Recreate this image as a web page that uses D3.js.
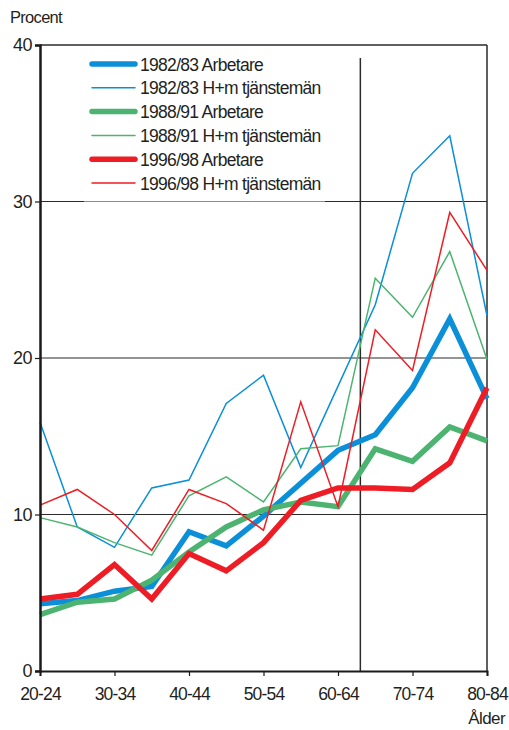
<!DOCTYPE html>
<html>
<head>
<meta charset="utf-8">
<script src="https://cdn.jsdelivr.net/npm/d3@7"></script>
<style>
  body { margin: 0; background: #fff; }
  text { font-family: "Liberation Sans", Arial, sans-serif; fill: #231f20; }
</style>
</head>
<body>
<div id="chart"></div>
<script>
// categories (age groups) and ticks
const ages = ["20-24","25-29","30-34","35-39","40-44","45-49","50-54","55-59","60-64","65-69","70-74","75-79","80-84"];
const ageLabels = ["20-24","30-34","40-44","50-54","60-64","70-74","80-84"];
const yTicks = [0, 10, 20, 30, 40];
const pensionAge = 65; // vertical marker

// series values (procent)
const arb8283 = [4.3, 4.5, 5.1, 5.4, 8.9, 8.0, 9.9, 12.0, 14.1, 15.1, 18.1, 22.5, 17.4];
const hm8283  = [15.9, 9.2, 7.9, 11.7, 12.2, 17.1, 18.9, 13.0, 18.2, 23.4, 31.8, 34.2, 22.7];
const arb8891 = [3.6, 4.4, 4.6, 5.8, 7.6, 9.2, 10.3, 10.8, 10.5, 14.2, 13.4, 15.6, 14.7];
const hm8891  = [9.8, 9.2, 8.2, 7.4, 11.2, 12.4, 10.8, 14.2, 14.4, 25.1, 22.6, 26.8, 19.9];
const arb9698 = [4.6, 4.9, 6.8, 4.6, 7.5, 6.4, 8.2, 10.9, 11.7, 11.7, 11.6, 13.3, 18.1];
const hm9698  = [10.6, 11.6, 10.0, 7.7, 11.6, 10.7, 9.0, 17.2, 10.5, 21.8, 19.2, 29.3, 25.6];

const series = [
  {name: "1982/83 Arbetare",       values: arb8283, color: "#0a8fd8", thick: true},
  {name: "1982/83 H+m tjänstemän", values: hm8283,  color: "#0a8fd8", thick: false},
  {name: "1988/91 Arbetare",       values: arb8891, color: "#4cb470", thick: true},
  {name: "1988/91 H+m tjänstemän", values: hm8891,  color: "#4cb470", thick: false},
  {name: "1996/98 Arbetare",       values: arb9698, color: "#ee1d25", thick: true},
  {name: "1996/98 H+m tjänstemän", values: hm9698,  color: "#ee1d25", thick: false}
];

// dimensions
const W = 509, H = 730;
const margin = {top: 45, right: 22, bottom: 59, left: 40};
const width = W - margin.left - margin.right;
const height = H - margin.top - margin.bottom;

const svg = d3.select("#chart").append("svg")
    .attr("width", W).attr("height", H);
const g = svg.append("g")
    .attr("transform", `translate(${margin.left},${margin.top})`);

// scales
const x = d3.scalePoint().domain(ages).range([0, width]);
const y = d3.scaleLinear().domain([0, 40]).range([height, 0]);
// age -> x, using the midpoints of the age groups
const xAge = d3.scaleLinear().domain([22, 82]).range([0, width]);

// gridlines
g.append("g").selectAll("line")
  .data(yTicks.filter(d => d > 0 && d < 40))
  .join("line")
    .attr("x1", 0).attr("x2", width)
    .attr("y1", d => y(d)).attr("y2", d => y(d))
    .attr("stroke", "#2b2b2b").attr("stroke-width", 1.1);

// frame top and right
g.append("line").attr("x1", 0).attr("x2", width).attr("y1", 0).attr("y2", 0)
  .attr("stroke", "#2b2b2b").attr("stroke-width", 1.5);
g.append("line").attr("x1", width).attr("x2", width).attr("y1", 0).attr("y2", height)
  .attr("stroke", "#2b2b2b").attr("stroke-width", 1.5);

// marker at age 65
g.append("line")
  .attr("x1", xAge(pensionAge)).attr("x2", xAge(pensionAge))
  .attr("y1", 13).attr("y2", height)
  .attr("stroke", "#2b2b2b").attr("stroke-width", 1.5);

// lines : thick first, thin on top
const line = d3.line().x((d, i) => x(ages[i])).y(d => y(d));
const ordered = series.filter(s => s.thick).concat(series.filter(s => !s.thick));
g.append("g").selectAll("path")
  .data(ordered)
  .join("path")
    .attr("d", d => line(d.values))
    .attr("fill", "none")
    .attr("stroke", d => d.color)
    .attr("stroke-width", d => d.thick ? 5.5 : 1.5)
    .attr("stroke-linejoin", "miter");

// legend box
const legend = g.append("g").attr("transform", "translate(44,2)");
legend.append("rect")
  .attr("x", 0).attr("y", 0).attr("width", 241).attr("height", 154)
  .attr("fill", "#fff");
legend.append("line").attr("x1", 0).attr("x2", 241).attr("y1", 154.5).attr("y2", 154.5)
  .attr("stroke", "#8c8c8c").attr("stroke-width", 1.1);
const item = legend.selectAll("g.item")
  .data(series)
  .join("g").attr("class", "item")
    .attr("transform", (d, i) => `translate(0,${17 + i * 23.8})`);
item.append("line")
  .attr("x1", 8).attr("x2", 51).attr("y1", 0).attr("y2", 0)
  .attr("stroke", d => d.color)
  .attr("stroke-width", d => d.thick ? 5.5 : 1.5)
  .attr("stroke-linecap", "round");
item.append("text")
  .attr("x", 56).attr("y", 6.5)
  .style("font-size", "17.5px")
  .style("letter-spacing", "-0.7px")
  .text(d => d.name);

// y axis
const yAxis = g.append("g").call(d3.axisLeft(y).tickValues(yTicks).tickSize(5).tickPadding(3));
yAxis.select(".domain").attr("stroke", "#1a1a1a").attr("stroke-width", 2.5);
yAxis.selectAll(".tick line").attr("stroke", "#1a1a1a").attr("stroke-width", 1.2);
yAxis.selectAll(".tick text").style("font-size", "18px").style("letter-spacing", "-0.5px").attr("fill", "#231f20");

// x axis
const xAxis = g.append("g").attr("transform", `translate(0,${height})`)
  .call(d3.axisBottom(x).tickValues(ageLabels).tickSize(5).tickPadding(12));
xAxis.select(".domain").attr("stroke", "#1a1a1a").attr("stroke-width", 2);
xAxis.selectAll(".tick line").attr("stroke", "#1a1a1a").attr("stroke-width", 1.2);
xAxis.selectAll(".tick text").style("font-size", "17.5px").style("letter-spacing", "-0.8px").attr("fill", "#231f20");

// axis titles
svg.append("text").attr("x", 10).attr("y", 23)
  .style("font-size", "16.5px").style("letter-spacing", "-0.7px").text("Procent");
svg.append("text").attr("x", 505).attr("y", 724).attr("text-anchor", "end")
  .style("font-size", "17px").style("letter-spacing", "-0.6px").text("Ålder");
</script>
</body>
</html>
